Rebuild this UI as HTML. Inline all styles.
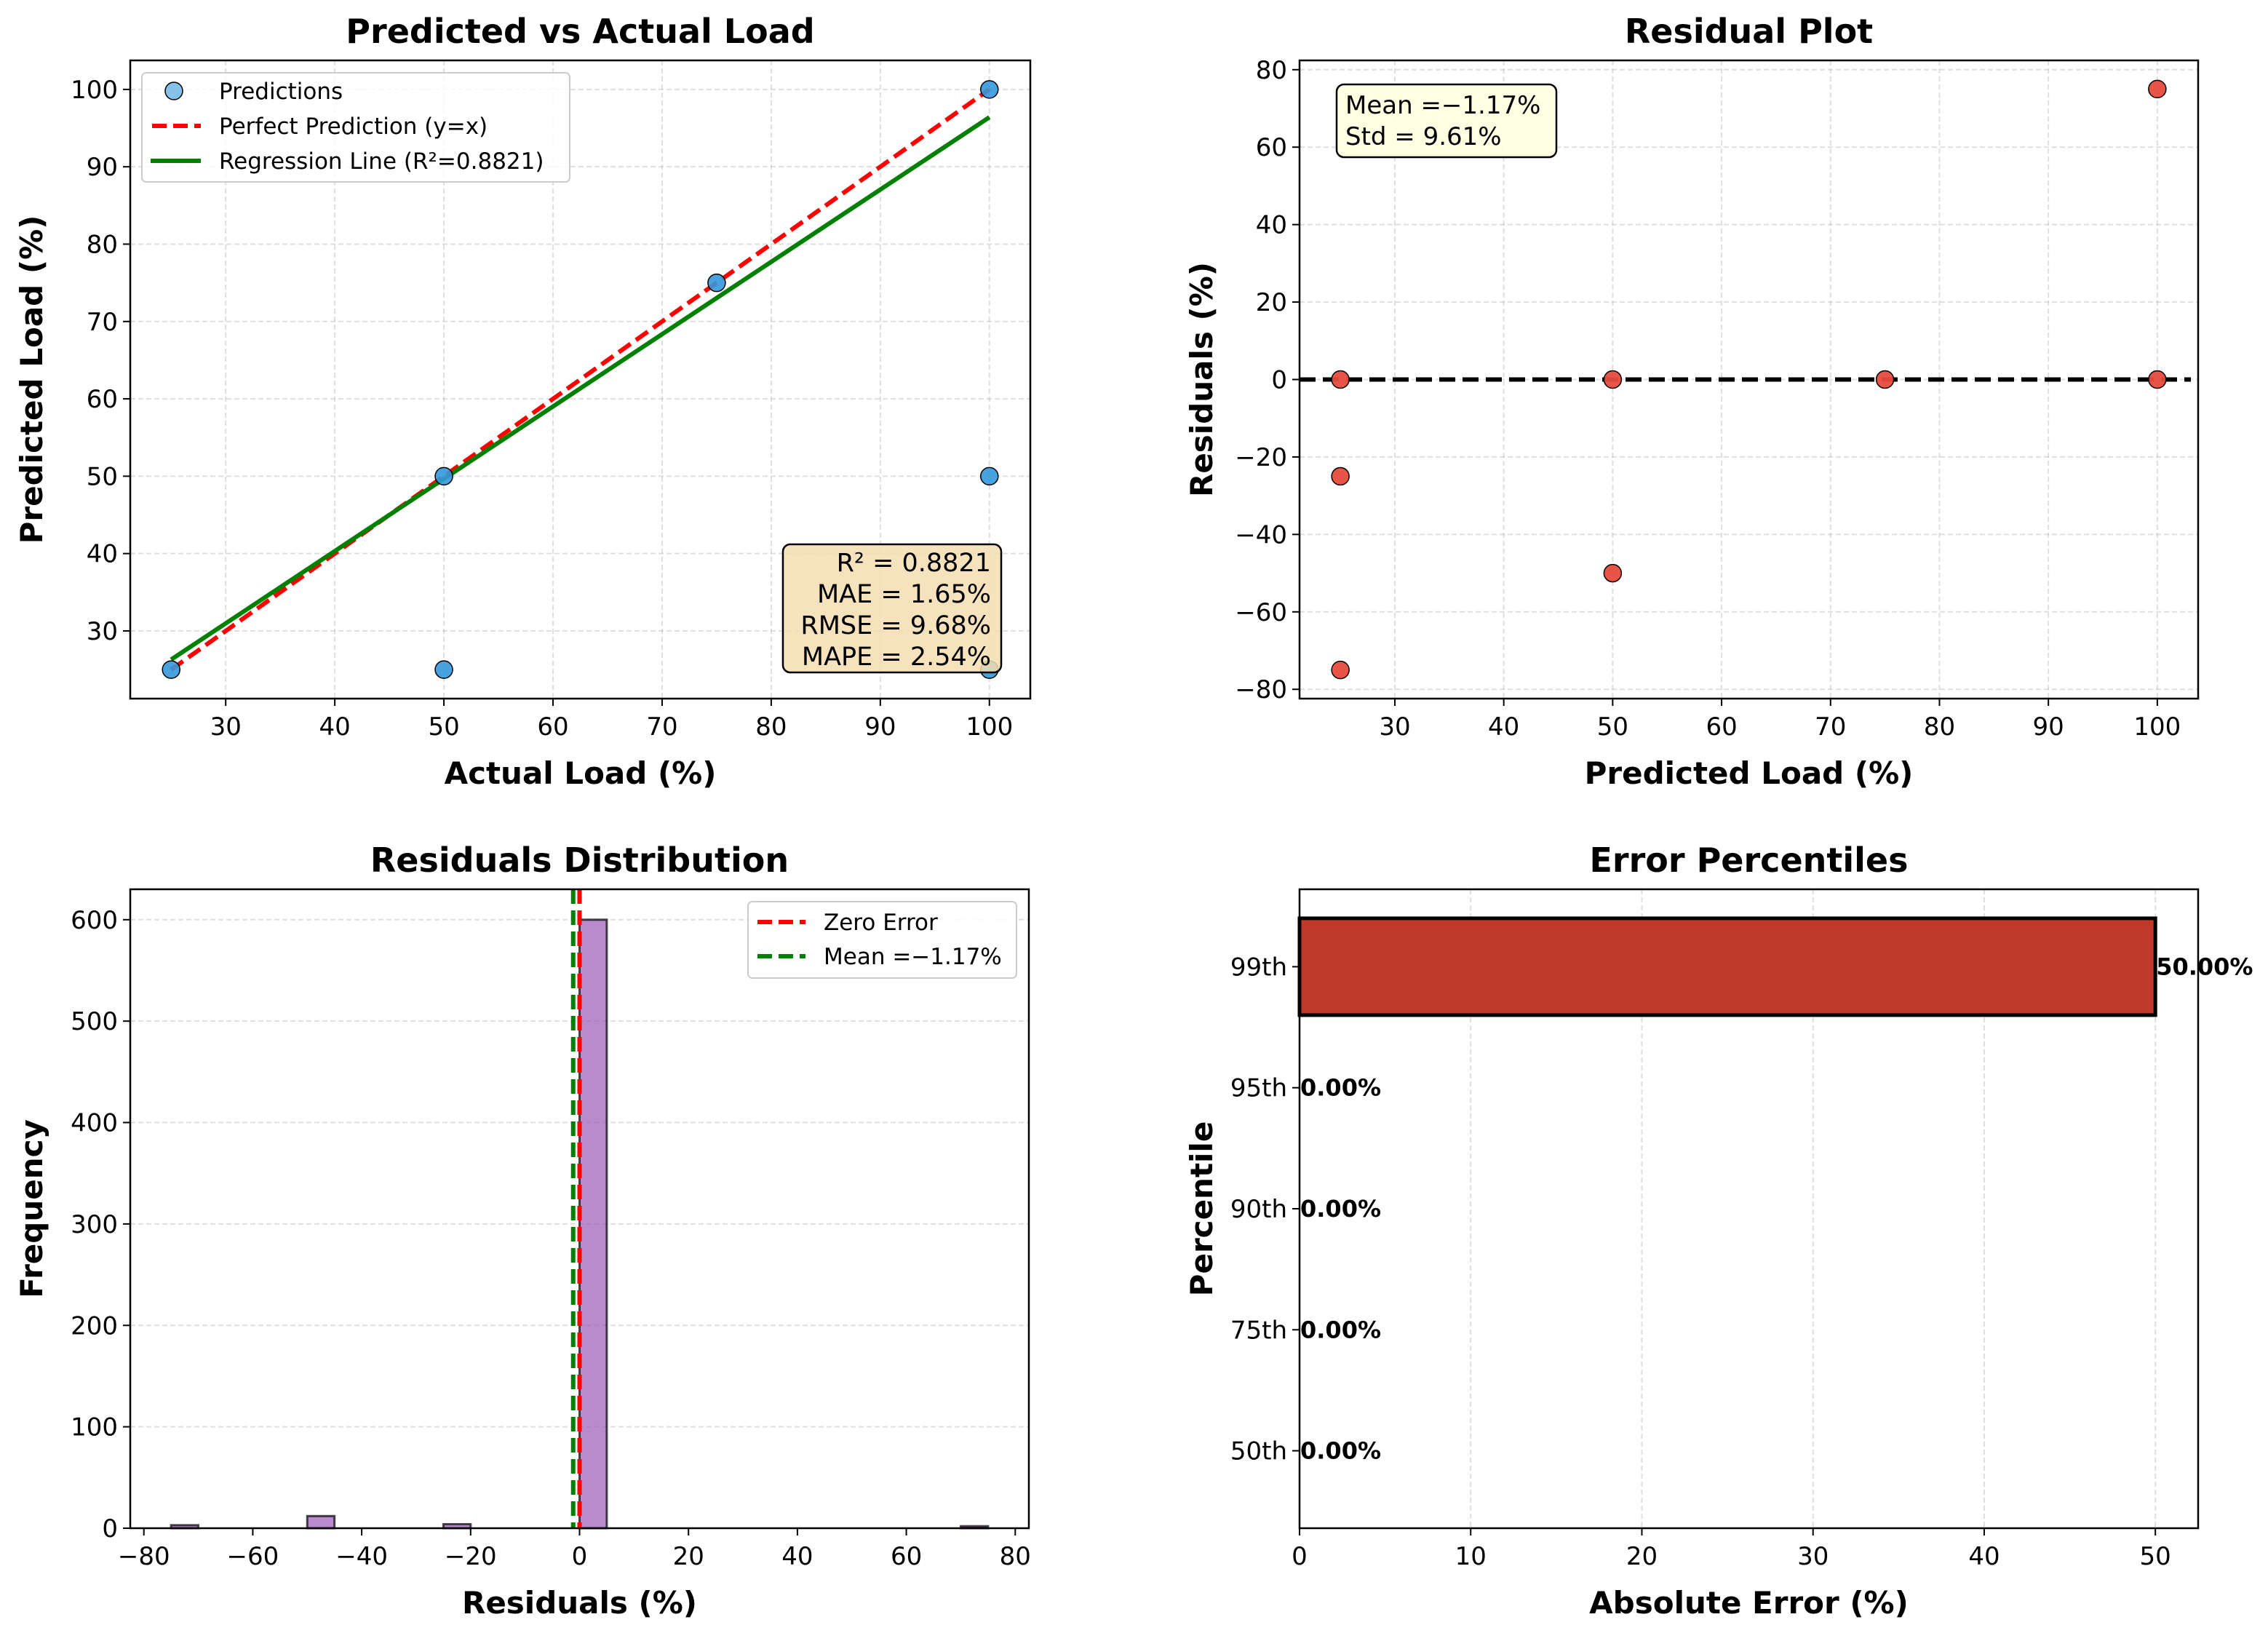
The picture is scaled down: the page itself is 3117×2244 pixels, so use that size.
<!DOCTYPE html>
<html><head><meta charset="utf-8"><style>
html,body{margin:0;padding:0;background:#fff}
svg{display:block;font-family:"DejaVu Sans","Liberation Sans",sans-serif}
</style></head><body>
<svg id="fig" xmlns="http://www.w3.org/2000/svg" width="3117" height="2244" viewBox="0 0 3117 2244"></svg>
<script>
// ---- data ----
const actualVals = [25, 50, 50, 75, 100, 100, 100];
const predictedVals = [25, 50, 25, 75, 100, 50, 25];
const regX = [25, 100];
const regY = [26.3, 96.4];
const resX = [25, 25, 25, 50, 50, 75, 100, 100];
const resY = [0, -25, -75, 0, -50, 0, 0, 75];
const binStarts = [-75, -50, -25, 0, 70];
const binCounts = [3, 12, 4, 600, 2];
const binWidth = 5;
const meanResidual = -1.17;
const pctLabels = ["50th", "75th", "90th", "95th", "99th"];
const pctValues = [0, 0, 0, 0, 50];
const ticks1 = [30, 40, 50, 60, 70, 80, 90, 100];
const ticksRes = [-80, -60, -40, -20, 0, 20, 40, 60, 80];
const ticksFreq = [0, 100, 200, 300, 400, 500, 600];
const ticksHistX = [-80, -60, -40, -20, 0, 20, 40, 60, 80];
const ticksErr = [0, 10, 20, 30, 40, 50];

const svg = document.getElementById('fig');
const NS = 'http://www.w3.org/2000/svg';
function el(tag, attrs, parent, text) {
  const e = document.createElementNS(NS, tag);
  for (const k in attrs) e.setAttribute(k, attrs[k]);
  if (text !== undefined) e.textContent = text;
  (parent || svg).appendChild(e);
  return e;
}
function fmt(v){return v<0?'\u2212'+Math.abs(v):String(v);}
function axes(name, box, xd, yd, title, xlabel, ylabel, ylabX) {
  const g = el('g', {});
  
  
  const sx = v => box.x0 + (v - xd[0]) / (xd[1] - xd[0]) * (box.x1 - box.x0);
  const sy = v => box.y1 - (v - yd[0]) / (yd[1] - yd[0]) * (box.y1 - box.y0);
  const t = el('text', {x:(box.x0+box.x1)/2, y:box.y0-24, 'font-size':46, 'font-weight':'bold', 'text-anchor':'middle'}, g, title);
  
  
  const xl = el('text', {x:(box.x0+box.x1)/2, y:box.y1+117, 'font-size':42, 'font-weight':'bold', 'text-anchor':'middle'}, g, xlabel);
  
  
  const yl = el('text', {x:ylabX, y:(box.y0+box.y1)/2, 'font-size':42, 'font-weight':'bold', 'text-anchor':'middle', transform:`rotate(-90 ${ylabX} ${(box.y0+box.y1)/2})`}, g, ylabel);
  
  
  return {g, sx, sy, box};
}
function xTicks(a, ticks, grid, labels) {
  ticks.forEach((v,i) => {
    const x = a.sx(v);
    if (grid) el('line', {x1:x, x2:x, y1:a.box.y0, y2:a.box.y1, stroke:'#b0b0b0', 'stroke-opacity':0.4, 'stroke-width':2, 'stroke-dasharray':'7,4'}, a.g);
    el('line', {x1:x, x2:x, y1:a.box.y1, y2:a.box.y1+10, stroke:'#000', 'stroke-width':2}, a.g);
    const t = el('text', {x:x, y:a.box.y1+50, 'font-size':34, 'text-anchor':'middle'}, a.g, labels ? labels[i] : fmt(v));
    
    
  });
}
function yTicks(a, ticks, grid, labels) {
  ticks.forEach((v,i) => {
    const y = a.sy(v);
    if (grid) el('line', {x1:a.box.x0, x2:a.box.x1, y1:y, y2:y, stroke:'#b0b0b0', 'stroke-opacity':0.4, 'stroke-width':2, 'stroke-dasharray':'7,4'}, a.g);
    el('line', {x1:a.box.x0-10, x2:a.box.x0, y1:y, y2:y, stroke:'#000', 'stroke-width':2}, a.g);
    const t = el('text', {x:a.box.x0-17, y:y+12, 'font-size':34, 'text-anchor':'end'}, a.g, labels ? labels[i] : fmt(v));
    
    
  });
}
function frame(a){ el('rect', {x:a.box.x0, y:a.box.y0, width:a.box.x1-a.box.x0, height:a.box.y1-a.box.y0, fill:'none', stroke:'#000', 'stroke-width':2.5}, a.g); }

// ---- Panel 1 ----
const a1 = axes('predicted-vs-actual-chart', {x0:179,x1:1416,y0:83,y1:960}, [21.25,103.75], [21.25,103.75], 'Predicted vs Actual Load', 'Actual Load (%)', 'Predicted Load (%)', 58);
xTicks(a1, ticks1, true); yTicks(a1, ticks1, true);
{
  const l = el('line', {x1:a1.sx(25), y1:a1.sy(25), x2:a1.sx(100), y2:a1.sy(100), stroke:'#ff0000', 'stroke-width':6, 'stroke-dasharray':'20,9'}, a1.g);
  
  
  const r = el('line', {x1:a1.sx(regX[0]), y1:a1.sy(regY[0]), x2:a1.sx(regX[1]), y2:a1.sy(regY[1]), stroke:'#008000', 'stroke-width':6}, a1.g);
  
  
  actualVals.forEach((v,i) => {
    const c = el('circle', {cx:a1.sx(v), cy:a1.sy(predictedVals[i]), r:12, fill:'#3498db', 'fill-opacity':0.9, stroke:'#000', 'stroke-width':1.5}, a1.g);
    
    
  });
  const lg = el('g', {}, a1.g);
  
  
  el('rect', {x:195, y:100, width:588, height:150, rx:6, fill:'#fff', 'fill-opacity':0.8, stroke:'#ccc', 'stroke-width':2}, lg);
  el('circle', {cx:239, cy:125, r:12, fill:'#3498db', 'fill-opacity':0.6, stroke:'#000', 'stroke-width':1.5}, lg);
  el('line', {x1:209, x2:276, y1:173, y2:173, stroke:'#ff0000', 'stroke-width':6, 'stroke-dasharray':'20,9'}, lg);
  el('line', {x1:207, x2:276, y1:221, y2:221, stroke:'#008000', 'stroke-width':6}, lg);
  el('text', {x:301, y:136, 'font-size':31}, lg, 'Predictions');
  el('text', {x:301, y:184, 'font-size':31}, lg, 'Perfect Prediction (y=x)');
  el('text', {x:301, y:232, 'font-size':31}, lg, 'Regression Line (R\u00b2=0.8821)');
  const sb = el('g', {}, a1.g);
  
  
  el('rect', {x:1076, y:748, width:300, height:176, rx:10, fill:'#f5deb3', 'fill-opacity':0.85, stroke:'#000', 'stroke-width':2.5}, sb);
  ['R\u00b2 = 0.8821','MAE = 1.65%','RMSE = 9.68%','MAPE = 2.54%'].forEach((s,i)=>
    el('text', {x:1362, y:785+i*43, 'font-size':35, 'text-anchor':'end'}, sb, s));
}
frame(a1);

// ---- Panel 2 ----
const a2 = axes('residual-plot-chart', {x0:1786,x1:3021,y0:83,y1:960}, [21.25,103.75], [-82.4,82.4], 'Residual Plot', 'Predicted Load (%)', 'Residuals (%)', 1666);
xTicks(a2, ticks1, true); yTicks(a2, ticksRes, true);
{
  const z = el('line', {x1:a2.box.x0, x2:a2.box.x1-10, y1:a2.sy(0), y2:a2.sy(0), stroke:'#000', 'stroke-width':6, 'stroke-dasharray':'22,10'}, a2.g);
  
  
  resX.forEach((v,i) => {
    const c = el('circle', {cx:a2.sx(v), cy:a2.sy(resY[i]), r:12, fill:'#e74c3c', 'fill-opacity':0.95, stroke:'#000', 'stroke-width':1.5}, a2.g);
    
    
  });
  const sb = el('g', {}, a2.g);
  
  
  el('rect', {x:1837, y:116, width:302, height:100, rx:10, fill:'#ffffe0', 'fill-opacity':0.9, stroke:'#000', 'stroke-width':2.5}, sb);
  el('text', {x:1849, y:156, 'font-size':34}, sb, 'Mean =\u22121.17%');
  el('text', {x:1849, y:199, 'font-size':34}, sb, 'Std = 9.61%');
}
frame(a2);

// ---- Panel 3 ----
const a3 = axes('residuals-distribution-chart', {x0:179,x1:1414,y0:1222,y1:2100}, [-82.5,82.5], [0,630], 'Residuals Distribution', 'Residuals (%)', 'Frequency', 58);
yTicks(a3, ticksFreq, true);
binStarts.forEach((b,i) => {
  const x0 = a3.sx(b), x1 = a3.sx(b+binWidth), y = a3.sy(binCounts[i]);
  const r = el('rect', {x:x0, y:y, width:x1-x0, height:a3.box.y1-y, fill:'#9b59b6', 'fill-opacity':0.7, stroke:'#000', 'stroke-opacity':0.7, 'stroke-width':3}, a3.g);
  
  
});
xTicks(a3, ticksHistX, false);
{
  const zl = el('line', {x1:a3.sx(0), x2:a3.sx(0), y1:a3.box.y0, y2:a3.box.y1, stroke:'#ff0000', 'stroke-width':6, 'stroke-dasharray':'20,9'}, a3.g);
  
  
  const ml = el('line', {x1:a3.sx(meanResidual), x2:a3.sx(meanResidual), y1:a3.box.y0, y2:a3.box.y1, stroke:'#008000', 'stroke-width':6, 'stroke-dasharray':'20,9'}, a3.g);
  
  
  const lg = el('g', {}, a3.g);
  
  
  el('rect', {x:1028, y:1239, width:369, height:105, rx:6, fill:'#fff', 'fill-opacity':0.8, stroke:'#ccc', 'stroke-width':2}, lg);
  el('line', {x1:1041, x2:1107, y1:1267, y2:1267, stroke:'#ff0000', 'stroke-width':6, 'stroke-dasharray':'20,9'}, lg);
  el('line', {x1:1041, x2:1107, y1:1314, y2:1314, stroke:'#008000', 'stroke-width':6, 'stroke-dasharray':'20,9'}, lg);
  el('text', {x:1132, y:1278, 'font-size':31}, lg, 'Zero Error');
  el('text', {x:1132, y:1325, 'font-size':31}, lg, 'Mean =\u22121.17%');
}
frame(a3);

// ---- Panel 4 ----
const a4 = axes('error-percentiles-chart', {x0:1786,x1:3021,y0:1222,y1:2100}, [0,52.5], [-0.64,4.64], 'Error Percentiles', 'Absolute Error (%)', 'Percentile', 1666);
xTicks(a4, ticksErr, true);
yTicks(a4, [0,1,2,3,4], false, pctLabels);
pctValues.forEach((v,i) => {
  const y0 = a4.sy(i+0.4), y1 = a4.sy(i-0.4);
  const r = el('rect', {x:a4.sx(0), y:y0, width:a4.sx(v)-a4.sx(0), height:y1-y0, fill:'#c0392b', stroke:'#000', 'stroke-width':5}, a4.g);
  
  
  const t = el('text', {x:a4.sx(v)+1, y:a4.sy(i)+11, 'font-size':32, 'font-weight':'bold'}, a4.g, v.toFixed(2)+'%');
  
  
});
frame(a4);
</script>
</body></html>
